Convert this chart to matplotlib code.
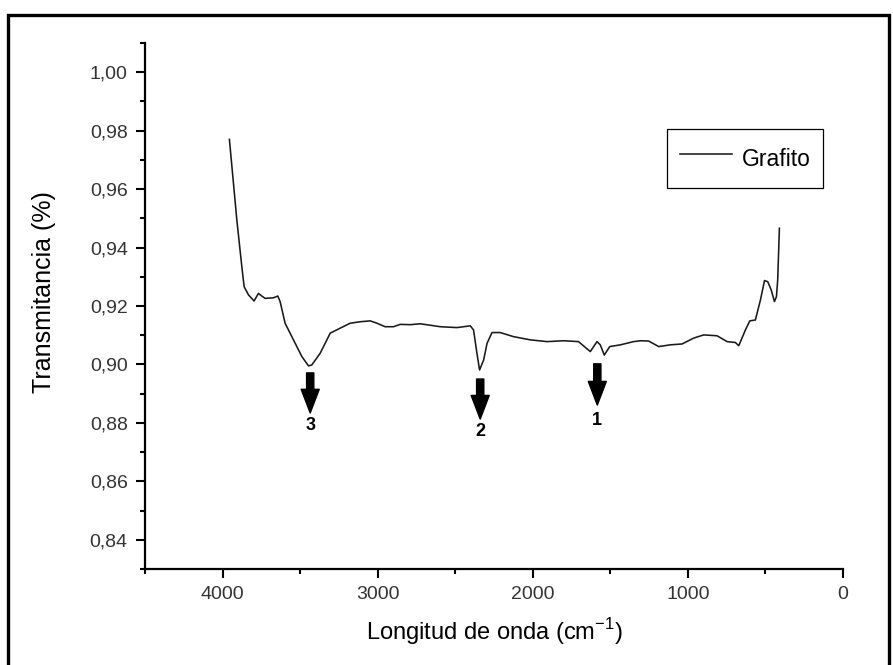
import numpy as np
import matplotlib
matplotlib.use("Agg")
from matplotlib import pyplot as plt
from matplotlib.ticker import MultipleLocator, FuncFormatter
from matplotlib.patches import Rectangle

plt.rcParams['font.family'] = ['Liberation Sans', 'DejaVu Sans']

# espectro FTIR del grafito
wavenumber = [3956, 3908, 3876, 3861, 3833, 3797, 3769, 3747, 3726, 3672, 3644,
              3629, 3597, 3543, 3489, 3446, 3425, 3371, 3306, 3242, 3177, 3113,
              3048, 3005, 2952, 2898, 2855, 2790, 2726, 2660, 2597, 2489, 2403,
              2382, 2360, 2343, 2317, 2295, 2263, 2210, 2124, 2016, 1908, 1801,
              1705, 1672, 1629, 1586, 1565, 1539, 1504, 1435, 1350, 1306, 1253,
              1188, 1113, 1037, 963, 898, 812, 747, 694, 672, 629, 601, 565,
              532, 506, 485, 463, 442, 429, 421, 410]
transmit = [0.9770, 0.9494, 0.9335, 0.9266, 0.9238, 0.9217, 0.9243, 0.9234,
            0.9226, 0.9228, 0.9234, 0.9215, 0.9141, 0.9084, 0.9027, 0.8995,
            0.8998, 0.9038, 0.9107, 0.9124, 0.9141, 0.9146, 0.9149, 0.9141,
            0.9129, 0.9129, 0.9137, 0.9136, 0.9139, 0.9134, 0.9129, 0.9126,
            0.9132, 0.9118, 0.9038, 0.8981, 0.9015, 0.9072, 0.9109, 0.9109,
            0.9095, 0.9084, 0.9078, 0.9081, 0.9078, 0.9063, 0.9044, 0.9078,
            0.9067, 0.9032, 0.9061, 0.9067, 0.9078, 0.9081, 0.9080, 0.9061,
            0.9067, 0.9070, 0.9090, 0.9101, 0.9098, 0.9078, 0.9075, 0.9064,
            0.9118, 0.9149, 0.9152, 0.9221, 0.9287, 0.9283, 0.9255, 0.9215,
            0.9232, 0.9289, 0.9466]

# flechas de las bandas: etiqueta, posicion, inicio y punta
peak_labels = ['3', '2', '1']
peak_x = [3435, 2339, 1584]
arrow_top = [0.8971, 0.8950, 0.9002]
arrow_tip = [0.8834, 0.8813, 0.8861]
label_y = [0.8790, 0.8769, 0.8807]

fig = plt.figure(figsize=(8.93, 6.65), dpi=100)
ax = fig.add_axes([0.1624, 0.1444, 0.7816, 0.7910])

ax.plot(wavenumber, transmit, color='#1a1a1a', lw=1.15, label='Grafito')

for lab, x, yt, yb, yl in zip(peak_labels, peak_x, arrow_top, arrow_tip, label_y):
    ax.annotate('', xy=(x, yb), xytext=(x, yt),
                arrowprops=dict(arrowstyle='simple,head_length=0.85,head_width=0.65,tail_width=0.26',
                                mutation_scale=20, color='black', shrinkA=0, shrinkB=0))
    ax.text(x, yl, lab, ha='center', va='center', fontsize=13, fontweight='bold')

ax.set_xlim(4500, 0)
ax.set_ylim(0.83, 1.01)

ax.xaxis.set_major_locator(MultipleLocator(1000))
ax.xaxis.set_minor_locator(MultipleLocator(500))
ax.yaxis.set_major_locator(MultipleLocator(0.02))
ax.yaxis.set_minor_locator(MultipleLocator(0.01))
ax.xaxis.set_major_formatter(FuncFormatter(lambda v, p: f"{v:.0f}"))
ax.yaxis.set_major_formatter(FuncFormatter(lambda v, p: f"{v:.2f}".replace('.', ',')))

ax.spines['top'].set_visible(False)
ax.spines['right'].set_visible(False)
ax.spines['left'].set_linewidth(1.6)
ax.spines['bottom'].set_linewidth(1.6)
ax.tick_params(which='major', direction='out', length=6.5, width=1.5,
               labelsize=14, labelcolor='#333333')
ax.tick_params(which='minor', direction='out', length=3.5, width=1.5)
ax.tick_params(axis='x', which='major', pad=6)
ax.tick_params(axis='y', which='major', pad=6)

ax.set_xlabel('Longitud de onda (cm$^{\\mathregular{-1}}$)', fontsize=17, labelpad=9)
ax.set_ylabel('Transmitancia (%)', fontsize=18)
ax.yaxis.set_label_coords(-0.128, 0.527)

leg = ax.legend(loc='upper left', bbox_to_anchor=(0.748, 0.8365), borderaxespad=0,
                fancybox=False, edgecolor='black', framealpha=1, fontsize=16.5,
                handlelength=2.27, handleheight=1.9, handletextpad=0.44, borderpad=0.55)
leg.get_frame().set_linewidth(0.9)

# marco exterior de la figura
fig.patches.append(Rectangle((8 / 893, -0.05), 881 / 893, 1.05 - 15 / 665,
                             transform=fig.transFigure, fill=False, lw=2.4,
                             edgecolor='black', clip_on=False))

fig.savefig('out.png', dpi=100)
